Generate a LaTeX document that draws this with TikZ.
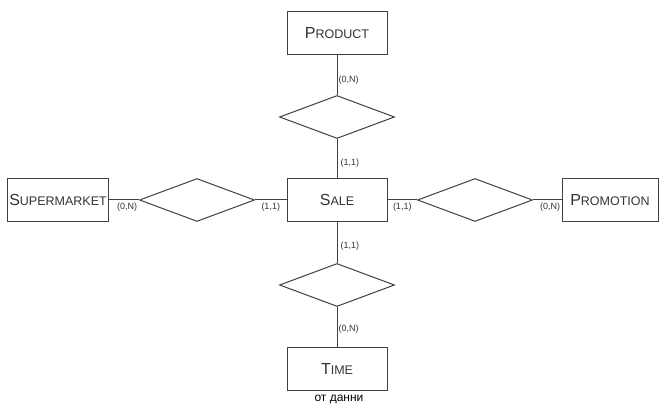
\documentclass[tikz,border=0pt]{standalone}
\usepackage{fontspec}
\setmainfont{Liberation Sans}
\usetikzlibrary{positioning, shapes.geometric}

\newcommand{\scap}[2]{{\fontsize{16}{18}\selectfont #1}{\fontsize{12.5}{14}\selectfont #2}}

\begin{document}
\begin{tikzpicture}[x=1pt, y=-1pt,
    entity/.style={rectangle, draw=black!75, line width=1pt, minimum width=100pt,
                   minimum height=43pt, inner sep=2pt, text=black!80},
    relship/.style={diamond, draw=black!75, line width=1pt, minimum width=115pt,
                    minimum height=43pt, inner sep=0pt},
    link/.style={draw=black!75, line width=1pt},
    card/.style={font=\fontsize{9}{10}\selectfont, text=black!80, inner sep=1pt}
]
\useasboundingbox (0,0) rectangle (659,406);

\node[entity] (product)     at (337,33)  {\scap{P}{RODUCT}};
\node[entity] (sale)        at (337,200) {\scap{S}{ALE}};
\node[entity] (time)        at (337,369) {\scap{T}{IME}};
\node[entity, minimum width=98pt] (supermarket) at (58,200)  {\scap{S}{UPERMARKET}};
\node[entity, minimum width=96pt] (promotion)   at (610,200) {\scap{P}{ROMOTION}};

\node[relship] (relprod)  at (337,117) {};
\node[relship] (reltime)  at (337,285) {};
\node[relship] (relsuper) at (197,200) {};
\node[relship] (relpromo) at (475,200) {};

\draw[link] (product) -- node[card, pos=0.62, right]{(0,N)} (relprod);
\draw[link] (relprod) -- node[card, pos=0.62, right=2pt]{(1,1)} (sale);
\draw[link] (sale) -- node[card, pos=0.6, right=2pt]{(1,1)} (reltime);
\draw[link] (reltime) -- node[card, pos=0.55, right]{(0,N)} (time);
\draw[link] (supermarket) -- node[card, pos=0.6, below=1pt]{(0,N)} (relsuper);
\draw[link] (relsuper) -- node[card, pos=0.5, below=1pt]{(1,1)} (sale);
\draw[link] (sale) -- node[card, pos=0.5, below=1pt]{(1,1)} (relpromo);
\draw[link] (relpromo) -- node[card, pos=0.6, below=1pt]{(0,N)} (promotion);

\node[font=\fontsize{12}{14}\selectfont, inner sep=0pt] (caption) at (339,399) {от данни};
\end{tikzpicture}
\end{document}
